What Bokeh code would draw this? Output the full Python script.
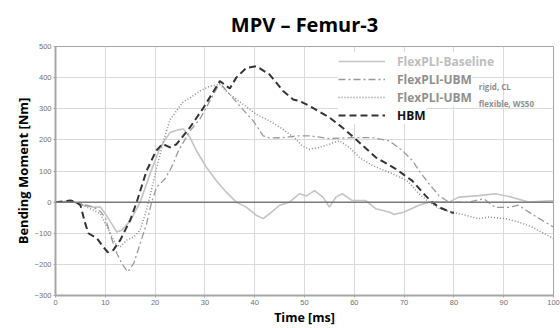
from bokeh.plotting import figure
from bokeh.models import Range1d, Span, Legend, LegendItem, Label, FixedTicker
from bokeh.embed import file_html
from bokeh.resources import INLINE

# ---------------- data ----------------
t_base = [0, 3, 4, 5.6, 7.6, 9, 10, 11.3, 12.3, 13.3, 15, 17, 19, 21, 23, 24.5, 25.7, 27,
          28.3, 30.3, 32.3, 34.3, 36.3, 38.3, 40.3, 41.7, 43, 45, 47, 49, 50.4, 52, 53.7,
          55, 56.3, 57.6, 59.6, 62.3, 64.3, 67, 68, 70, 73, 75, 79, 81, 85, 88.3, 91.6, 95, 100]
m_base = [0, 3, -2, -10, -16, -16, -37, -70, -96, -90, -61, 0, 91, 176, 224, 232, 235, 208,
          165, 112, 69, 32, 0, -16, -42, -53, -37, -10, 0, 27, 20, 37, 16,
          -16, 16, 27, 5, 5, -21, -32, -40, -32, -10, 0, 0, 16, 21, 27, 16, 0, 5]

t_rigid = [0, 3, 5, 7.6, 9, 10, 11, 12.3, 13.3, 14.5, 15.7, 17, 18.3, 19.3, 20.3, 22, 23.3,
           24.7, 27, 29, 31, 33, 35, 37, 39.7, 41.7, 43, 45.7, 48.3, 51, 55, 59.6, 63.6, 67,
           69.7, 71.7, 73, 75, 77, 79, 83, 86, 88.3, 91, 93, 96, 100]
m_rigid = [0, 3, -5, -16, -30, -50, -105, -164, -197, -224, -197, -133, -69, 0, 48, 75, 112,
           165, 229, 267, 325, 383, 346, 309, 261, 213, 206, 207, 213, 213, 204, 207, 207, 197,
           165, 133, 101, 59, 21, 0, 0, 11, -17, -17, -10, -42, -80]

t_flex = [0, 3, 5.6, 9, 10.7, 12, 13, 14.3, 15.7, 17, 18, 19, 20.3, 21.7, 23, 24.6, 25.5, 27,
          29, 31, 33, 35, 37.7, 40.3, 43, 45.7, 48.3, 49.5, 51, 53, 55, 57, 59, 61, 63.7, 67,
          70.6, 73, 75, 77, 79.6, 82.3, 85, 87, 90.3, 93, 95.7, 100]
m_flex = [0, 3, -10, -37, -90, -133, -144, -122, -112, -90, -40, 20, 110, 197, 265, 300, 320, 335,
          357, 373, 378, 346, 314, 282, 261, 234, 202, 181, 170, 176, 186, 197, 176, 144, 117, 96,
          69, 27, 0, -20, -32, -42, -53, -48, -53, -64, -80, -117]

t_hbm = [0, 3, 4, 5, 6, 6.6, 8.3, 9.6, 10.5, 11.6, 13, 15, 16.3, 18.3, 20.2, 21.5, 23, 24.3,
         27, 29.7, 33, 35, 36.3, 38.3, 40.3, 43, 45.7, 47.7, 49, 51, 55, 57.6, 60.3, 64.3, 68.3,
         71.6, 73, 74.3, 75.6, 77, 79.3, 80]
m_hbm = [0, 5, 2, -10, -70, -100, -116, -144, -161, -154, -122, -58, 0, 101, 165, 187, 176, 186,
         240, 303, 389, 365, 400, 431, 437, 410, 357, 330, 325, 309, 272, 240, 202, 144, 107,
         69, 44, 21, 0, -16, -32, -35]

x_ticks = [0, 10, 20, 30, 40, 50, 60, 70, 80, 90, 100]
y_ticks = [-300, -200, -100, 0, 100, 200, 300, 400, 500]

names = ["FlexPLI-Baseline", "FlexPLI-UBM", "FlexPLI-UBM", "HBM"]
subs = [None, "rigid, CL", "flexible, WS50", None]

# ---------------- figure ----------------
p = figure(width=560, height=328, output_backend="svg", toolbar_location=None,
           x_range=Range1d(0, 100), y_range=Range1d(-300, 500),
           min_border_left=55, min_border_right=7, min_border_top=45, min_border_bottom=32)
p.background_fill_color = "white"
p.border_fill_color = "white"
p.outline_line_color = "#a6a6a6"
p.outline_line_width = 1

p.title.text = "MPV \u2013 Femur-3"
p.title.align = "center"
p.title.text_font = "Open Sans"
p.title.text_font_size = "20px"
p.title.text_font_style = "bold"
p.title.text_color = "black"
p.title.standoff = 17

p.xaxis.ticker = FixedTicker(ticks=x_ticks)
p.yaxis.ticker = FixedTicker(ticks=y_ticks)
for ax in (p.xaxis[0], p.yaxis[0]):
    ax.axis_line_color = "#a6a6a6"
    ax.axis_line_width = 2
    ax.major_tick_line_color = "#a6a6a6"
    ax.major_tick_out = 2
    ax.major_tick_in = 0
    ax.minor_tick_line_color = None
    ax.major_label_text_font = "Liberation Sans"
    ax.major_label_text_font_size = "7.5px"
    ax.major_label_text_color = "#707070"
    ax.axis_label_text_font = "Open Sans"
    ax.axis_label_text_font_size = "12.5px"
    ax.axis_label_text_font_style = "bold"
    ax.axis_label_text_color = "black"
p.xaxis.axis_label = "Time [ms]"
p.yaxis.axis_label = "Bending Moment [Nm]"
p.yaxis.axis_label_text_font_size = "13px"
p.xaxis.major_label_standoff = 2
p.yaxis.major_label_standoff = 2
p.xaxis.axis_label_standoff = 1
p.yaxis.axis_label_standoff = 0

p.grid.grid_line_color = "#dadada"
p.grid.grid_line_width = 1

p.add_layout(Span(location=0, dimension="width", line_color="#7a7a7a", line_width=1.5))

r_base = p.line(t_base, m_base, line_color="#c4c4c4", line_width=1.6)
r_rigid = p.line(t_rigid, m_rigid, line_color="#9a9a9a", line_width=1.3, line_dash="7 3 2 3")
r_flex = p.line(t_flex, m_flex, line_color="#8a8a8a", line_width=1.5, line_dash="1 2")
r_hbm = p.line(t_hbm, m_hbm, line_color="#333333", line_width=2, line_dash="7 4")

colors = ["#bdbdbd", "#8f8f8f", "#8f8f8f", "#111111"]
renders = [r_base, r_rigid, r_flex, r_hbm]
bottoms = [225, 207, 189, 171]
for name, rr, col, b in zip(names, renders, colors, bottoms):
    lg = Legend(items=[LegendItem(label=name, renderers=[rr])], location=(283, b),
                glyph_width=47, glyph_height=18, label_height=18, label_standoff=12,
                padding=0, margin=0, spacing=0, border_line_alpha=0,
                background_fill_color="white", background_fill_alpha=1,
                label_text_font="Open Sans", label_text_font_size="12px",
                label_text_font_style="bold", label_text_color=col)
    p.add_layout(lg)

sub_y = [None, 372, 318, None]
for s, col, yy in zip(subs, colors, sub_y):
    if s:
        p.add_layout(Label(x=85.0, y=yy, text=s, text_font="Open Sans", text_font_size="8px",
                           text_font_style="bold", text_color=col, text_baseline="middle"))

open("out.html", "w").write(file_html(p, INLINE))
